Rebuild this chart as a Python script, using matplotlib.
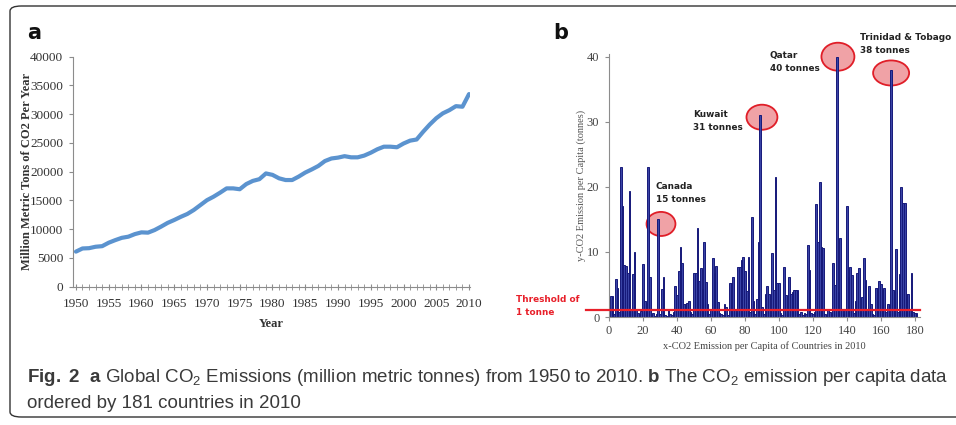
import matplotlib
matplotlib.use("Agg")
import matplotlib.pyplot as plt
from matplotlib.patches import Ellipse, FancyBboxPatch
from matplotlib.lines import Line2D
from matplotlib import font_manager

# ---------------- data ----------------
years = list(range(1950, 2011))
global_emissions = [
    6100, 6650, 6700, 6950, 7050, 7650, 8100, 8500, 8700, 9150,
    9450, 9400, 9850, 10450, 11100, 11600, 12150, 12650, 13350, 14200,
    15050, 15650, 16350, 17100, 17100, 16950, 17850, 18400, 18700, 19700,
    19450, 18850, 18550, 18550, 19150, 19850, 20400, 21000, 21850, 22300,
    22450, 22700, 22500, 22500, 22800, 23300, 23900, 24350, 24350, 24250,
    24900, 25400, 25600, 26950, 28200, 29300, 30150, 30700, 31400, 31300,
    33500,
]

country_index = list(range(1, 182))
per_capita = [
    3.3, 3.3, 0.5, 5.8, 4.4, 0.8, 23.0, 17.0, 8.0, 7.8,
    6.7, 19.4, 1.2, 6.6, 10.0, 1.3, 0.6, 0.4, 0.9, 8.1,
    2.5, 2.2, 23.0, 6.2, 0.3, 0.6, 0.2, 0.4, 15.0, 0.4,
    4.3, 6.2, 0.3, 0.2, 1.0, 0.5, 0.3, 0.8, 4.8, 3.4,
    7.0, 10.7, 8.3, 2.0, 2.0, 2.2, 2.5, 0.8, 0.5, 6.7,
    6.7, 13.7, 5.5, 7.5, 4.3, 11.5, 5.4, 2.0, 0.5, 1.0,
    9.1, 6.7, 7.8, 2.3, 0.6, 0.4, 0.3, 2.0, 1.5, 0.3,
    5.2, 5.2, 6.2, 1.0, 0.6, 7.7, 7.7, 8.8, 9.2, 7.0,
    4.0, 9.2, 0.8, 15.3, 2.5, 0.4, 2.8, 11.5, 31.0, 1.5,
    0.4, 3.6, 4.7, 3.6, 0.3, 9.8, 4.2, 21.5, 5.2, 5.2,
    0.6, 0.3, 7.7, 3.4, 0.4, 6.2, 3.6, 3.8, 4.2, 4.1,
    4.1, 0.5, 0.8, 0.3, 0.6, 0.4, 11.1, 7.2, 0.6, 0.4,
    0.8, 17.4, 11.6, 20.7, 10.7, 10.6, 0.5, 0.3, 1.0, 0.8,
    0.4, 8.3, 4.9, 40.0, 3.8, 12.2, 1.2, 0.5, 1.3, 17.0,
    6.2, 7.7, 6.5, 0.6, 2.5, 6.7, 7.5, 0.8, 3.0, 9.0,
    5.7, 1.0, 4.8, 2.0, 0.4, 0.3, 4.4, 4.4, 5.5, 5.0,
    4.2, 4.4, 0.8, 2.0, 0.5, 38.0, 4.2, 4.0, 10.4, 0.8,
    6.6, 20.0, 17.5, 17.5, 3.6, 3.6, 1.0, 6.7, 0.8, 0.6,
    0.6,
]

highlight_names = ["Canada", "Kuwait", "Qatar", "Trinidad & Tobago"]
highlight_index = [29, 89, 134, 166]
highlight_values = [15, 31, 40, 38]
threshold = 1

# ---------------- fonts ----------------
available = {f.name for f in font_manager.fontManager.ttflist}
serif = "Liberation Serif" if "Liberation Serif" in available else "DejaVu Serif"
narrow = "Liberation Sans Narrow" if "Liberation Sans Narrow" in available else "Liberation Sans"

plt.rcParams["mathtext.fontset"] = "custom"
plt.rcParams["mathtext.rm"] = narrow
plt.rcParams["mathtext.it"] = narrow
plt.rcParams["mathtext.bf"] = narrow + ":bold"

W, H = 956, 425
fig = plt.figure(figsize=(W / 100, H / 100), dpi=100)


def fx(px):
    return px / W


def fy(py):
    return 1 - py / H


# rounded frame around the figure
frame = FancyBboxPatch((fx(10), fy(417)), fx(980) - fx(10), fy(6) - fy(417),
                       boxstyle="round,pad=0,rounding_size=0.012",
                       transform=fig.transFigure, fill=False,
                       edgecolor="#333333", linewidth=1.0)
fig.patches.append(frame)

gray = "#8c8c8c"
tick_color = "#333333"

# ---------------- panel a ----------------
axa = fig.add_axes([fx(73), fy(286.7), fx(470) - fx(73), fy(56.7) - fy(286.7)])
axa.plot(years, global_emissions, color="#5b93cf", linewidth=3.0,
         solid_capstyle="round", solid_joinstyle="round")
axa.set_xlim(1949.55, 2010.15)
axa.set_ylim(0, 40000)
axa.set_xticks(range(1950, 2011, 5))
axa.set_xticks(years, minor=True)
axa.set_yticks(range(0, 40001, 5000))
for s in ["top", "right"]:
    axa.spines[s].set_visible(False)
for s in ["left", "bottom"]:
    axa.spines[s].set_color(gray)
    axa.spines[s].set_linewidth(0.8)
axa.tick_params(axis="x", which="both", direction="inout", length=4, color=gray,
                labelsize=9.5, labelcolor=tick_color, pad=6)
axa.tick_params(axis="y", direction="out", length=3, color=gray,
                labelsize=9.5, labelcolor=tick_color, pad=4)
for lab in axa.get_xticklabels() + axa.get_yticklabels():
    lab.set_fontfamily(serif)
axa.set_xlabel("Year", fontfamily=serif, fontweight="bold", fontsize=9,
               color=tick_color, labelpad=6)
axa.set_ylabel("Million Metric Tons of CO2 Per Year", fontfamily=serif,
               fontweight="bold", fontsize=9, color=tick_color)
axa.yaxis.set_label_coords((33 - 73) / (470 - 73), 0.5)
fig.text(fx(27), fy(33), "a", fontsize=15, fontweight="bold",
         ha="left", va="center", color="#111111")

# ---------------- panel b ----------------
axb = fig.add_axes([fx(609), fy(317), fx(920) - fx(609), fy(54.1) - fy(317)])
axb.bar(country_index, per_capita, width=1.0, color="#3a44a6",
        edgecolor="#16197a", linewidth=0.7, zorder=2)
axb.set_xlim(0, 183)
axb.set_ylim(0, 40.4)
axb.set_xticks(range(0, 181, 20))
axb.set_yticks(range(0, 41, 10))
for s in ["top", "right"]:
    axb.spines[s].set_visible(False)
for s in ["left", "bottom"]:
    axb.spines[s].set_color(gray)
    axb.spines[s].set_linewidth(0.8)
axb.tick_params(axis="both", direction="out", length=3, color=gray,
                labelsize=9, labelcolor="#444444")
axb.tick_params(axis="y", pad=4)
axb.tick_params(axis="x", pad=3)
for lab in axb.get_xticklabels() + axb.get_yticklabels():
    lab.set_fontfamily(serif)
axb.set_xlabel("x-CO2 Emission per Capita of Countries in 2010", fontfamily=serif,
               fontsize=7.5, color="#444444")
axb.xaxis.set_label_coords(0.5, (317 - 341) / (317 - 54.1), transform=axb.transAxes)
axb.set_ylabel("y-CO2 Emission per Capita (tonnes)", fontfamily=serif,
               fontsize=7.5, color="#555555")
axb.yaxis.set_label_coords((586 - 609) / (920 - 609), 0.5)

# threshold line, extended out toward its label
axb.add_line(Line2D([-13.5, 183], [threshold, threshold], color="#e8202a",
                    linewidth=1.6, clip_on=False, zorder=5))
fig.text(fx(516), fy(306), "Threshold of\n1 tonne", color="#e8202a",
         fontsize=6.4, fontweight="bold", ha="left", va="center", linespacing=1.6)

# highlighted countries
ellipse_offsets = [(1.6, -0.7), (1.0, -0.3), (0.7, 0.0), (0.0, -0.5)]
ellipse_sizes = [(17, 3.7), (18.2, 3.85), (19.4, 4.3), (21.2, 3.85)]
label_pos = [(656, 193), (693, 121), (770, 62), (860, 44)]
for name, idx, val, off, size, lp in zip(highlight_names, highlight_index,
                                         highlight_values, ellipse_offsets,
                                         ellipse_sizes, label_pos):
    e = Ellipse((idx + off[0], val + off[1]), size[0], size[1],
                facecolor="#f0a2a6", edgecolor="#e01e28", linewidth=1.3,
                clip_on=False, zorder=1)
    axb.add_patch(e)
    fig.text(fx(lp[0]), fy(lp[1]), f"{name}\n{val} tonnes", fontsize=6.4,
             fontweight="bold", color="#222222", ha="left", va="center",
             linespacing=1.6)

fig.text(fx(561), fy(33), "b", fontsize=15, fontweight="bold",
         ha="center", va="center", color="#111111")

# ---------------- caption ----------------
cap1 = (r"$\mathbf{Fig.\ 2}$  $\mathbf{a}$ Global CO$_2$ Emissions (million metric tonnes) "
        r"from 1950 to 2010. $\mathbf{b}$ The CO$_2$ emission per capita data")
fig.text(fx(27), fy(381.5), cap1, fontfamily=narrow, fontsize=13.5,
         color="#3a3a3a", ha="left", va="baseline")
fig.text(fx(27), fy(407.5), "ordered by 181 countries in 2010", fontfamily=narrow,
         fontsize=13.5, color="#3a3a3a", ha="left", va="baseline")

fig.savefig("out.png", dpi=100)
